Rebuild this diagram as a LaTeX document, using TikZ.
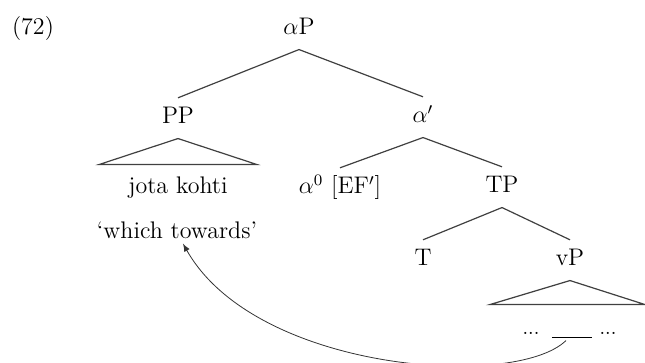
\documentclass[tikz,border=0pt]{standalone}
\begin{document}
\begin{tikzpicture}[
x=0.5pt, y=-0.5pt,
every node/.style={
anchor=base,
font=\large,
inner sep=6pt,
text height=1.6ex,
text depth=.25ex
},
branch/.style={
draw=black!75,
line width=0.6pt
}
]
\useasboundingbox (0,0) rectangle (645,363);

\node (Ex) at (33,35)
{(72)};

\node (aP) at (299,35)
{$\alpha$P};

\node (PP) at (178,124)
{PP};

\node (abar) at (423,123)
{$\alpha'$};

\node (jota) at (178,194)
{jota kohti};

\node (ahead) at (340,194)
{$\alpha^0$ [EF$'$]};

\node (TP) at (502,193)
{TP};

\node[inner sep=1pt] (gloss) at (177,239)
{`which towards'};

\node (T) at (423,266)
{T};

\node (vP) at (570,266)
{vP};

\node[font=\normalsize] (dl) at (531,335)
{...};

\node[inner sep=0pt] (trace) at (572,338)
{\rule{20pt}{0.5pt}};

\node[font=\normalsize] (dr) at (608,335)
{...};

\draw[branch] (aP.south) -- (PP.north);
\draw[branch] (aP.south) -- (abar.north);
\draw[branch] (abar.south) -- (ahead.north);
\draw[branch] (abar.south) -- (TP.north);
\draw[branch] (TP.south) -- (T.north);
\draw[branch] (TP.south) -- (vP.north);

\draw[branch] (PP.south) -- ++(-39.5pt,-13pt) -- ++(79pt,0pt) -- cycle;
\draw[branch] (vP.south) -- ++(-40pt,-12pt) -- ++(77.5pt,0pt) -- cycle;

\draw[-latex, black!80] ([xshift=-3pt]trace.south)
.. controls (515,390) and (255,372) .. ([xshift=3pt]gloss.south);

\end{tikzpicture}
\end{document}
